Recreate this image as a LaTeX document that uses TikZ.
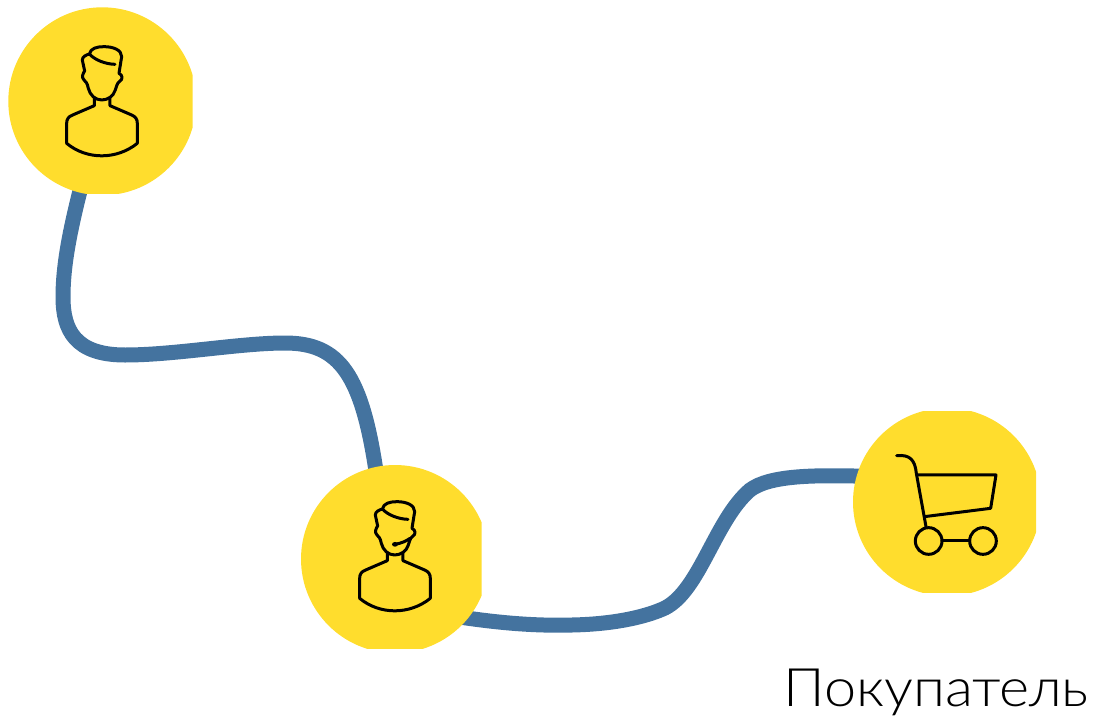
\documentclass[tikz,border=0pt]{standalone}
\usepackage{fontspec}
\newfontfamily\labelfont[FakeStretch=1.087]{Lato Light}
\usetikzlibrary{backgrounds}
\definecolor{discyellow}{HTML}{FFDD2D}
\definecolor{roadblue}{HTML}{44739F}
% disc cut off by a box: name, centre, box corners
\newcommand{\discfig}[4]{%
\begin{scope}
  \clip #3 rectangle #4;
  \node [disc] (#1) at #2 {};
\end{scope}
}
% man, drawn in 3x crop units
\newcommand{\personfig}[1]{%
\begin{scope}[shift={#1}, x=0.3333pt, y=-0.3333pt]
  \draw [icon] (268,162) .. controls (272,145) and (290,140) .. (312,140)
               .. controls (340,140) and (365,150) .. (365,170)
               -- (357,220)
               .. controls (368,225) and (370,238) .. (358,245)
               .. controls (350,250) and (350,262) .. (346,270)
               .. controls (340,290) and (322,300) .. (305,300)
               .. controls (285,300) and (270,285) .. (265,265)
               .. controls (262,250) and (258,245) .. (252,240)
               .. controls (243,232) and (250,218) .. (254,213)
               -- (247,180)
               .. controls (247,170) and (258,165) .. (268,162)
               .. controls (285,180) and (315,192) .. (345,193);
  \draw [icon] (283,293) -- (283,317) -- (218,345)
               .. controls (205,350) and (200,358) .. (200,370)
               -- (200,430)
               .. controls (260,480) and (350,480) .. (412,430)
               -- (412,370)
               .. controls (412,358) and (407,350) .. (395,345)
               -- (330,317) -- (330,293);
\end{scope}
}

\begin{document}
\begin{tikzpicture}[x=1pt, y=-1pt,
          disc/.style = {circle,
                         fill = discyellow,
                         inner sep = 0pt,
                         minimum size = 188pt},
          road/.style = {line width = 15pt,
                         color = roadblue,
                         shorten < = -8pt,
                         shorten > = -8pt},
          icon/.style = {line width = 3pt,
                         line join = round,
                         line cap = round}]
  \useasboundingbox (0,0) rectangle (1094,717);

  \discfig{agent}{(102.3,101.3)}{(0,0)}{(192.7,193.3)}
  \discfig{operator}{(395,559)}{(290,450)}{(481.7,648)}
  \discfig{cart}{(947,502)}{(840,411)}{(1036,592.7)}

  \begin{scope}[on background layer]
    \draw [road] (agent.256) .. controls (70,230) and (63,265) .. (63,297)
                 .. controls (63,330) and (75,355) .. (125,355)
                 .. controls (175,355) and (240,343) .. (285,343)
                 .. controls (340,343) and (362,375) .. (operator.102);
    \draw [road] (operator.321) .. controls (500,623) and (535,626) .. (572,625)
                 .. controls (620,624) and (650,615) .. (665,608)
                 .. controls (700,590) and (715,520) .. (750,490)
                 .. controls (770,475) and (815,475) .. (cart.164);
  \end{scope}

  \personfig{(0,0)}
  \personfig{(293,455)}
  % headset
  \begin{scope}[shift={(293,455)}, x=0.3333pt, y=-0.3333pt]
    \fill (306,268) ellipse (9 and 7);
    \draw [icon] (306,268) .. controls (325,265) and (340,258) .. (351,250);
  \end{scope}

  % trolley
  \begin{scope}[shift={(845,405)}, x=0.3333pt, y=-0.3333pt]
    \draw [icon] (155,152) .. controls (195,148) and (210,165) .. (214,205) -- (243,365);
    \draw [icon] (217,210) -- (453,210) -- (437,310) -- (238,335);
    \draw [icon] (251,408) circle (40);
    \draw [icon] (414,408) circle (40);
    \draw [icon] (291,408) -- (374,408);
  \end{scope}

  \node [anchor = base west, inner sep = 0pt, font = \labelfont\fontsize{53}{53}\selectfont]
        (buyer) at (783,706) {Покупатель};
\end{tikzpicture}
\end{document}
